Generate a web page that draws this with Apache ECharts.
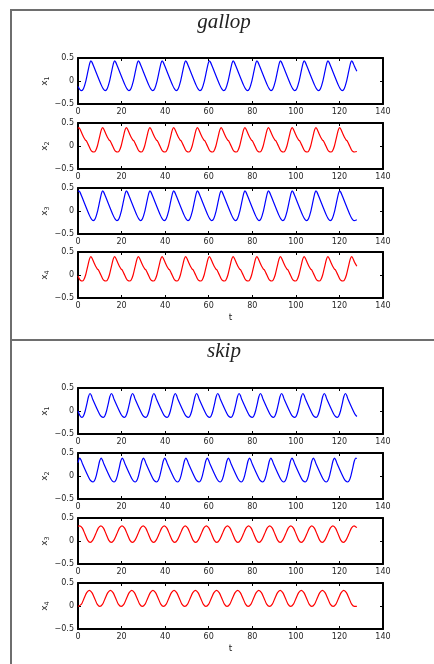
<!DOCTYPE html>
<html><head><meta charset="utf-8">
<script src="https://cdn.jsdelivr.net/npm/echarts@6/dist/echarts.min.js"></script>
<style>html,body{margin:0;padding:0;background:#fff}#c{width:434px;height:664px}</style>
</head><body><div id="c"></div>
<script>
const panelTitles = ['gallop', 'skip'];
const xAxisName = 't';
const yNameSubs = ['1', '2', '3', '4'];
const xMin = 0, xMax = 140, xStep = 20;
const yMin = -0.5, yMax = 0.5, yStep = 0.5;

const gallopX1 = [[0,-0.12],[0.8,-0.18],
[1.6,-0.21],[2.5,-0.17],[3.5,-0.02],[4.6,0.22],[5.4,0.39],[5.9,0.44],[6.4,0.41],[7.2,0.32],[10.7,-0.09],[11.6,-0.17],
[12.5,-0.21],[13.4,-0.17],[14.4,-0.02],[15.5,0.22],[16.3,0.39],[16.8,0.44],[17.3,0.41],[18.1,0.32],[21.6,-0.09],[22.5,-0.17],
[23.4,-0.21],[24.3,-0.17],[25.3,-0.02],[26.4,0.22],[27.2,0.39],[27.7,0.44],[28.2,0.41],[29.0,0.32],[32.5,-0.09],[33.4,-0.17],
[34.3,-0.21],[35.2,-0.17],[36.2,-0.02],[37.3,0.22],[38.1,0.39],[38.6,0.44],[39.1,0.41],[39.9,0.32],[43.4,-0.09],[44.3,-0.17],
[45.1,-0.21],[46.0,-0.17],[47.0,-0.02],[48.1,0.22],[48.9,0.39],[49.4,0.44],[49.9,0.41],[50.7,0.32],[54.2,-0.09],[55.1,-0.17],
[56.0,-0.21],[56.9,-0.17],[57.9,-0.02],[59.0,0.22],[59.8,0.39],[60.3,0.44],[60.8,0.41],[61.6,0.32],[65.1,-0.09],[66.0,-0.17],
[66.9,-0.21],[67.8,-0.17],[68.8,-0.02],[69.9,0.22],[70.7,0.39],[71.2,0.44],[71.7,0.41],[72.5,0.32],[76.0,-0.09],[76.9,-0.17],
[77.8,-0.21],[78.7,-0.17],[79.7,-0.02],[80.8,0.22],[81.6,0.39],[82.1,0.44],[82.6,0.41],[83.4,0.32],[86.9,-0.09],[87.8,-0.17],
[88.6,-0.21],[89.5,-0.17],[90.5,-0.02],[91.6,0.22],[92.4,0.39],[92.9,0.44],[93.4,0.41],[94.2,0.32],[97.7,-0.09],[98.6,-0.17],
[99.5,-0.21],[100.4,-0.17],[101.4,-0.02],[102.5,0.22],[103.3,0.39],[103.8,0.44],[104.3,0.41],[105.1,0.32],[108.6,-0.09],[109.5,-0.17],
[110.4,-0.21],[111.3,-0.17],[112.3,-0.02],[113.4,0.22],[114.2,0.39],[114.7,0.44],[115.2,0.41],[116.0,0.32],[119.5,-0.09],[120.4,-0.17],
[121.3,-0.21],[122.2,-0.17],[123.2,-0.02],[124.3,0.22],[125.1,0.39],[125.6,0.44],[126.1,0.41],[126.9,0.32],[128,0.21]];

const gallopX2 = [[0,0.38],
[0.4,0.40],[0.9,0.37],[1.8,0.27],[2.6,0.19],[3.4,0.13],[3.9,0.11],[4.7,0.03],[5.8,-0.08],[6.5,-0.12],
[7.3,-0.13],[8.0,-0.11],[8.9,0.00],[9.9,0.20],[10.7,0.35],[11.3,0.40],[11.8,0.37],[12.7,0.27],[13.5,0.19],[14.3,0.13],[14.8,0.11],[15.6,0.03],[16.7,-0.08],[17.4,-0.12],
[18.2,-0.13],[18.9,-0.11],[19.8,0.00],[20.8,0.20],[21.6,0.35],[22.2,0.40],[22.7,0.37],[23.6,0.27],[24.4,0.19],[25.2,0.13],[25.7,0.11],[26.5,0.03],[27.6,-0.08],[28.3,-0.12],
[29.0,-0.13],[29.7,-0.11],[30.6,0.00],[31.6,0.20],[32.4,0.35],[33.0,0.40],[33.5,0.37],[34.4,0.27],[35.2,0.19],[36.0,0.13],[36.5,0.11],[37.3,0.03],[38.4,-0.08],[39.1,-0.12],
[39.9,-0.13],[40.6,-0.11],[41.5,0.00],[42.5,0.20],[43.3,0.35],[43.9,0.40],[44.4,0.37],[45.3,0.27],[46.1,0.19],[46.9,0.13],[47.4,0.11],[48.2,0.03],[49.3,-0.08],[50.0,-0.12],
[50.8,-0.13],[51.5,-0.11],[52.4,0.00],[53.4,0.20],[54.2,0.35],[54.8,0.40],[55.3,0.37],[56.2,0.27],[57.0,0.19],[57.8,0.13],[58.3,0.11],[59.1,0.03],[60.2,-0.08],[60.9,-0.12],
[61.7,-0.13],[62.4,-0.11],[63.3,0.00],[64.3,0.20],[65.1,0.35],[65.7,0.40],[66.2,0.37],[67.1,0.27],[67.9,0.19],[68.7,0.13],[69.2,0.11],[70.0,0.03],[71.1,-0.08],[71.8,-0.12],
[72.6,-0.13],[73.3,-0.11],[74.2,0.00],[75.2,0.20],[76.0,0.35],[76.6,0.40],[77.1,0.37],[78.0,0.27],[78.8,0.19],[79.6,0.13],[80.1,0.11],[80.9,0.03],[82.0,-0.08],[82.7,-0.12],
[83.4,-0.13],[84.1,-0.11],[85.0,0.00],[86.0,0.20],[86.8,0.35],[87.4,0.40],[87.9,0.37],[88.8,0.27],[89.6,0.19],[90.4,0.13],[90.9,0.11],[91.7,0.03],[92.8,-0.08],[93.5,-0.12],
[94.3,-0.13],[95.0,-0.11],[95.9,0.00],[96.9,0.20],[97.7,0.35],[98.3,0.40],[98.8,0.37],[99.7,0.27],[100.5,0.19],[101.3,0.13],[101.8,0.11],[102.6,0.03],[103.7,-0.08],[104.4,-0.12],
[105.2,-0.13],[105.9,-0.11],[106.8,0.00],[107.8,0.20],[108.6,0.35],[109.2,0.40],[109.7,0.37],[110.6,0.27],[111.4,0.19],[112.2,0.13],[112.7,0.11],[113.5,0.03],[114.6,-0.08],[115.3,-0.12],
[116.1,-0.13],[116.8,-0.11],[117.7,0.00],[118.7,0.20],[119.5,0.35],[120.1,0.40],[120.6,0.37],[121.5,0.27],[122.3,0.19],[123.1,0.13],[123.6,0.11],[124.4,0.03],[125.5,-0.08],[126.2,-0.12],[127.0,-0.13],[128,-0.12]];

const gallopX3 = [[0,0.42],
[0.4,0.44],[0.9,0.41],[1.7,0.32],[5.2,-0.09],[6.1,-0.17],
[7.0,-0.21],[7.9,-0.17],[8.9,-0.02],[10.0,0.22],[10.8,0.39],[11.3,0.44],[11.8,0.41],[12.6,0.32],[16.1,-0.09],[17.0,-0.17],
[17.9,-0.21],[18.8,-0.17],[19.8,-0.02],[20.9,0.22],[21.7,0.39],[22.2,0.44],[22.7,0.41],[23.5,0.32],[27.0,-0.09],[27.9,-0.17],
[28.7,-0.21],[29.6,-0.17],[30.6,-0.02],[31.7,0.22],[32.5,0.39],[33.0,0.44],[33.5,0.41],[34.3,0.32],[37.8,-0.09],[38.7,-0.17],
[39.6,-0.21],[40.5,-0.17],[41.5,-0.02],[42.6,0.22],[43.4,0.39],[43.9,0.44],[44.4,0.41],[45.2,0.32],[48.7,-0.09],[49.6,-0.17],
[50.5,-0.21],[51.4,-0.17],[52.4,-0.02],[53.5,0.22],[54.3,0.39],[54.8,0.44],[55.3,0.41],[56.1,0.32],[59.6,-0.09],[60.5,-0.17],
[61.4,-0.21],[62.3,-0.17],[63.3,-0.02],[64.4,0.22],[65.2,0.39],[65.7,0.44],[66.2,0.41],[67.0,0.32],[70.5,-0.09],[71.4,-0.17],
[72.3,-0.21],[73.2,-0.17],[74.2,-0.02],[75.3,0.22],[76.1,0.39],[76.6,0.44],[77.1,0.41],[77.9,0.32],[81.4,-0.09],[82.3,-0.17],
[83.1,-0.21],[84.0,-0.17],[85.0,-0.02],[86.1,0.22],[86.9,0.39],[87.4,0.44],[87.9,0.41],[88.7,0.32],[92.2,-0.09],[93.1,-0.17],
[94.0,-0.21],[94.9,-0.17],[95.9,-0.02],[97.0,0.22],[97.8,0.39],[98.3,0.44],[98.8,0.41],[99.6,0.32],[103.1,-0.09],[104.0,-0.17],
[104.9,-0.21],[105.8,-0.17],[106.8,-0.02],[107.9,0.22],[108.7,0.39],[109.2,0.44],[109.7,0.41],[110.5,0.32],[114.0,-0.09],[114.9,-0.17],
[115.8,-0.21],[116.7,-0.17],[117.7,-0.02],[118.8,0.22],[119.6,0.39],[120.1,0.44],[120.6,0.41],[121.4,0.32],[124.9,-0.09],[125.8,-0.17],[126.7,-0.21],[128,-0.19]];

const gallopX4 = [[0,-0.02],[0.7,-0.09],[1.2,-0.12],
[1.9,-0.13],[2.6,-0.11],[3.5,0.00],[4.5,0.20],[5.3,0.35],[5.9,0.40],[6.4,0.37],[7.3,0.27],[8.1,0.19],[8.9,0.13],[9.4,0.11],[10.2,0.03],[11.3,-0.08],[12.0,-0.12],
[12.8,-0.13],[13.5,-0.11],[14.4,0.00],[15.4,0.20],[16.2,0.35],[16.8,0.40],[17.3,0.37],[18.2,0.27],[19.0,0.19],[19.8,0.13],[20.3,0.11],[21.1,0.03],[22.2,-0.08],[22.9,-0.12],
[23.7,-0.13],[24.4,-0.11],[25.3,0.00],[26.3,0.20],[27.1,0.35],[27.7,0.40],[28.2,0.37],[29.1,0.27],[29.9,0.19],[30.7,0.13],[31.2,0.11],[32.0,0.03],[33.1,-0.08],[33.8,-0.12],
[34.6,-0.13],[35.3,-0.11],[36.2,0.00],[37.2,0.20],[38.0,0.35],[38.6,0.40],[39.1,0.37],[40.0,0.27],[40.8,0.19],[41.6,0.13],[42.1,0.11],[42.9,0.03],[44.0,-0.08],[44.7,-0.12],
[45.4,-0.13],[46.1,-0.11],[47.0,0.00],[48.0,0.20],[48.8,0.35],[49.4,0.40],[49.9,0.37],[50.8,0.27],[51.6,0.19],[52.4,0.13],[52.9,0.11],[53.7,0.03],[54.8,-0.08],[55.5,-0.12],
[56.3,-0.13],[57.0,-0.11],[57.9,0.00],[58.9,0.20],[59.7,0.35],[60.3,0.40],[60.8,0.37],[61.7,0.27],[62.5,0.19],[63.3,0.13],[63.8,0.11],[64.6,0.03],[65.7,-0.08],[66.4,-0.12],
[67.2,-0.13],[67.9,-0.11],[68.8,0.00],[69.8,0.20],[70.6,0.35],[71.2,0.40],[71.7,0.37],[72.6,0.27],[73.4,0.19],[74.2,0.13],[74.7,0.11],[75.5,0.03],[76.6,-0.08],[77.3,-0.12],
[78.1,-0.13],[78.8,-0.11],[79.7,0.00],[80.7,0.20],[81.5,0.35],[82.1,0.40],[82.6,0.37],[83.5,0.27],[84.3,0.19],[85.1,0.13],[85.6,0.11],[86.4,0.03],[87.5,-0.08],[88.2,-0.12],
[88.9,-0.13],[89.6,-0.11],[90.5,0.00],[91.5,0.20],[92.3,0.35],[92.9,0.40],[93.4,0.37],[94.3,0.27],[95.1,0.19],[95.9,0.13],[96.4,0.11],[97.2,0.03],[98.3,-0.08],[99.0,-0.12],
[99.8,-0.13],[100.5,-0.11],[101.4,0.00],[102.4,0.20],[103.2,0.35],[103.8,0.40],[104.3,0.37],[105.2,0.27],[106.0,0.19],[106.8,0.13],[107.3,0.11],[108.1,0.03],[109.2,-0.08],[109.9,-0.12],
[110.7,-0.13],[111.4,-0.11],[112.3,0.00],[113.3,0.20],[114.1,0.35],[114.7,0.40],[115.2,0.37],[116.1,0.27],[116.9,0.19],[117.7,0.13],[118.2,0.11],[119.0,0.03],[120.1,-0.08],[120.8,-0.12],
[121.6,-0.13],[122.3,-0.11],[123.2,0.00],[124.2,0.20],[125.0,0.35],[125.6,0.40],[126.1,0.37],[127.0,0.27],[128,0.19]];

const skipX1 = [[0,0.00],[0.9,-0.10],
[1.8,-0.14],[2.5,-0.11],[3.3,0.00],[4.1,0.16],[4.8,0.31],[5.5,0.38],[6.1,0.34],[6.8,0.25],[9.8,-0.06],[10.7,-0.12],
[11.6,-0.14],[12.3,-0.11],[13.1,0.00],[13.9,0.16],[14.6,0.31],[15.3,0.38],[15.9,0.34],[16.6,0.25],[19.6,-0.06],[20.5,-0.12],
[21.3,-0.14],[22.0,-0.11],[22.8,0.00],[23.6,0.16],[24.3,0.31],[25.0,0.38],[25.6,0.34],[26.3,0.25],[29.3,-0.06],[30.2,-0.12],
[31.1,-0.14],[31.8,-0.11],[32.6,0.00],[33.4,0.16],[34.1,0.31],[34.8,0.38],[35.4,0.34],[36.1,0.25],[39.1,-0.06],[40.0,-0.12],
[40.9,-0.14],[41.6,-0.11],[42.4,0.00],[43.2,0.16],[43.9,0.31],[44.6,0.38],[45.2,0.34],[45.9,0.25],[48.9,-0.06],[49.8,-0.12],
[50.7,-0.14],[51.4,-0.11],[52.2,0.00],[53.0,0.16],[53.7,0.31],[54.4,0.38],[55.0,0.34],[55.7,0.25],[58.7,-0.06],[59.6,-0.12],
[60.4,-0.14],[61.1,-0.11],[61.9,0.00],[62.7,0.16],[63.4,0.31],[64.1,0.38],[64.7,0.34],[65.4,0.25],[68.4,-0.06],[69.3,-0.12],
[70.2,-0.14],[70.9,-0.11],[71.7,0.00],[72.5,0.16],[73.2,0.31],[73.9,0.38],[74.5,0.34],[75.2,0.25],[78.2,-0.06],[79.1,-0.12],
[80.0,-0.14],[80.7,-0.11],[81.5,0.00],[82.3,0.16],[83.0,0.31],[83.7,0.38],[84.3,0.34],[85.0,0.25],[88.0,-0.06],[88.9,-0.12],
[89.7,-0.14],[90.4,-0.11],[91.2,0.00],[92.0,0.16],[92.7,0.31],[93.4,0.38],[94.0,0.34],[94.7,0.25],[97.7,-0.06],[98.6,-0.12],
[99.5,-0.14],[100.2,-0.11],[101.0,0.00],[101.8,0.16],[102.5,0.31],[103.2,0.38],[103.8,0.34],[104.5,0.25],[107.5,-0.06],[108.4,-0.12],
[109.3,-0.14],[110.0,-0.11],[110.8,0.00],[111.6,0.16],[112.3,0.31],[113.0,0.38],[113.6,0.34],[114.3,0.25],[117.3,-0.06],[118.2,-0.12],
[119.0,-0.14],[119.7,-0.11],[120.5,0.00],[121.3,0.16],[122.0,0.31],[122.7,0.38],[123.3,0.34],[124.0,0.25],[127.0,-0.06],[128,-0.12]];

const skipX2 = [[0,0.29],
[0.8,0.39],[1.4,0.35],[2.1,0.26],[5.1,-0.05],[6.0,-0.11],
[6.9,-0.13],[7.6,-0.10],[8.4,0.01],[9.2,0.17],[9.9,0.32],[10.6,0.39],[11.2,0.35],[11.9,0.26],[14.9,-0.05],[15.8,-0.11],
[16.6,-0.13],[17.3,-0.10],[18.1,0.01],[18.9,0.17],[19.6,0.32],[20.3,0.39],[20.9,0.35],[21.6,0.26],[24.6,-0.05],[25.5,-0.11],
[26.3,-0.13],[27.0,-0.10],[27.8,0.01],[28.6,0.17],[29.3,0.32],[30.0,0.39],[30.6,0.35],[31.3,0.26],[34.3,-0.05],[35.2,-0.11],
[36.1,-0.13],[36.8,-0.10],[37.6,0.01],[38.4,0.17],[39.1,0.32],[39.8,0.39],[40.4,0.35],[41.1,0.26],[44.1,-0.05],[45.0,-0.11],
[45.8,-0.13],[46.5,-0.10],[47.3,0.01],[48.1,0.17],[48.8,0.32],[49.5,0.39],[50.1,0.35],[50.8,0.26],[53.8,-0.05],[54.7,-0.11],
[55.6,-0.13],[56.3,-0.10],[57.1,0.01],[57.9,0.17],[58.6,0.32],[59.3,0.39],[59.9,0.35],[60.6,0.26],[63.6,-0.05],[64.5,-0.11],
[65.3,-0.13],[66.0,-0.10],[66.8,0.01],[67.6,0.17],[68.3,0.32],[69.0,0.39],[69.6,0.35],[70.3,0.26],[73.3,-0.05],[74.2,-0.11],
[75.0,-0.13],[75.7,-0.10],[76.5,0.01],[77.3,0.17],[78.0,0.32],[78.7,0.39],[79.3,0.35],[80.0,0.26],[83.0,-0.05],[83.9,-0.11],
[84.8,-0.13],[85.5,-0.10],[86.3,0.01],[87.1,0.17],[87.8,0.32],[88.5,0.39],[89.1,0.35],[89.8,0.26],[92.8,-0.05],[93.7,-0.11],
[94.5,-0.13],[95.2,-0.10],[96.0,0.01],[96.8,0.17],[97.5,0.32],[98.2,0.39],[98.8,0.35],[99.5,0.26],[102.5,-0.05],[103.4,-0.11],
[104.3,-0.13],[105.0,-0.10],[105.8,0.01],[106.6,0.17],[107.3,0.32],[108.0,0.39],[108.6,0.35],[109.3,0.26],[112.3,-0.05],[113.2,-0.11],
[114.0,-0.13],[114.7,-0.10],[115.5,0.01],[116.3,0.17],[117.0,0.32],[117.7,0.39],[118.3,0.35],[119.0,0.26],[122.0,-0.05],[122.9,-0.11],
[123.8,-0.13],[124.5,-0.10],[125.3,0.01],[126.1,0.17],[126.8,0.32],[127.5,0.39],[128,0.38]];

const skipX3 = [[0,0.32],
[0.8,0.33],[2.0,0.28],[3.2,0.15],[4.4,0.02],[5.6,-0.03],[6.8,0.02],[8.1,0.15],[9.3,0.28],
[10.5,0.33],[11.7,0.28],[12.9,0.15],[14.1,0.02],[15.3,-0.03],[16.5,0.02],[17.8,0.15],[19.0,0.28],
[20.2,0.33],[21.4,0.28],[22.6,0.15],[23.8,0.02],[25.0,-0.03],[26.2,0.02],[27.5,0.15],[28.7,0.28],
[29.9,0.33],[31.1,0.28],[32.3,0.15],[33.5,0.02],[34.7,-0.03],[35.9,0.02],[37.2,0.15],[38.4,0.28],
[39.6,0.33],[40.8,0.28],[42.0,0.15],[43.2,0.02],[44.4,-0.03],[45.6,0.02],[46.9,0.15],[48.1,0.28],
[49.2,0.33],[50.4,0.28],[51.6,0.15],[52.8,0.02],[54.0,-0.03],[55.2,0.02],[56.5,0.15],[57.7,0.28],
[58.9,0.33],[60.1,0.28],[61.3,0.15],[62.5,0.02],[63.7,-0.03],[64.9,0.02],[66.2,0.15],[67.4,0.28],
[68.6,0.33],[69.8,0.28],[71.0,0.15],[72.2,0.02],[73.4,-0.03],[74.6,0.02],[75.9,0.15],[77.1,0.28],
[78.3,0.33],[79.5,0.28],[80.7,0.15],[81.9,0.02],[83.1,-0.03],[84.3,0.02],[85.6,0.15],[86.8,0.28],
[88.0,0.33],[89.2,0.28],[90.4,0.15],[91.6,0.02],[92.8,-0.03],[94.0,0.02],[95.3,0.15],[96.5,0.28],
[97.7,0.33],[98.9,0.28],[100.1,0.15],[101.3,0.02],[102.5,-0.03],[103.7,0.02],[105.0,0.15],[106.2,0.28],
[107.3,0.33],[108.5,0.28],[109.7,0.15],[110.9,0.02],[112.1,-0.03],[113.3,0.02],[114.6,0.15],[115.8,0.28],
[117.0,0.33],[118.2,0.28],[119.4,0.15],[120.6,0.02],[121.8,-0.03],[123.0,0.02],[124.3,0.15],[125.5,0.28],
[126.7,0.33],[128,0.29]];

const skipX4 = [[0,-0.01],[0.3,-0.01],
[1.6,0.04],[2.8,0.17],[4.0,0.29],[5.2,0.34],[6.4,0.29],[7.6,0.17],[8.8,0.04],
[10.0,-0.01],[11.3,0.04],[12.5,0.17],[13.7,0.29],[14.9,0.34],[16.1,0.29],[17.3,0.17],[18.5,0.04],
[19.8,-0.01],[21.1,0.04],[22.3,0.17],[23.5,0.29],[24.7,0.34],[25.9,0.29],[27.1,0.17],[28.3,0.04],
[29.5,-0.01],[30.8,0.04],[32.0,0.17],[33.2,0.29],[34.4,0.34],[35.6,0.29],[36.8,0.17],[38.0,0.04],
[39.2,-0.01],[40.5,0.04],[41.7,0.17],[42.9,0.29],[44.1,0.34],[45.3,0.29],[46.5,0.17],[47.7,0.04],
[49.0,-0.01],[50.3,0.04],[51.5,0.17],[52.7,0.29],[53.9,0.34],[55.1,0.29],[56.3,0.17],[57.5,0.04],
[58.7,-0.01],[60.0,0.04],[61.2,0.17],[62.4,0.29],[63.6,0.34],[64.8,0.29],[66.0,0.17],[67.2,0.04],
[68.4,-0.01],[69.7,0.04],[70.9,0.17],[72.1,0.29],[73.3,0.34],[74.5,0.29],[75.7,0.17],[76.9,0.04],
[78.1,-0.01],[79.4,0.04],[80.6,0.17],[81.8,0.29],[83.0,0.34],[84.2,0.29],[85.4,0.17],[86.6,0.04],
[87.9,-0.01],[89.2,0.04],[90.4,0.17],[91.6,0.29],[92.8,0.34],[94.0,0.29],[95.2,0.17],[96.4,0.04],
[97.6,-0.01],[98.9,0.04],[100.1,0.17],[101.3,0.29],[102.5,0.34],[103.7,0.29],[104.9,0.17],[106.1,0.04],
[107.3,-0.01],[108.6,0.04],[109.8,0.17],[111.0,0.29],[112.2,0.34],[113.4,0.29],[114.6,0.17],[115.8,0.04],
[117.1,-0.01],[118.4,0.04],[119.6,0.17],[120.8,0.29],[122.0,0.34],[123.2,0.29],[124.4,0.17],[125.6,0.04],[126.9,-0.01],[128,-0.01]];

const BLUE = '#0000ff', RED = '#ff0000';
const panels = [
  { title: panelTitles[0], data: [gallopX1, gallopX2, gallopX3, gallopX4], colors: [BLUE, RED, BLUE, RED], tops: [58, 123, 188, 252], titleTop: 12, frame: [11, 10, 440, 330] },
  { title: panelTitles[1], data: [skipX1, skipX2, skipX3, skipX4], colors: [BLUE, BLUE, RED, RED], tops: [388, 453, 518, 583], titleTop: 341, frame: [11, 340, 440, 340] }
];

const FONT = 'DejaVu Sans';
const AX_COLOR = '#000';
const LBL_COLOR = '#262626';
const grid = [], xAxis = [], yAxis = [], series = [], title = [], graphic = [];

panels.forEach(function (p) {
  graphic.push({ type: 'rect', z: -1, shape: { x: p.frame[0], y: p.frame[1], width: p.frame[2], height: p.frame[3] },
    style: { fill: 'none', stroke: '#6e6e6e', lineWidth: 2 } });
  title.push({ text: p.title, left: 224, top: p.titleTop, textAlign: 'center', padding: 0,
    textStyle: { fontFamily: 'Liberation Serif', fontStyle: 'italic', fontWeight: 'normal', fontSize: 21, color: '#222' } });
  p.data.forEach(function (d, i) {
    const g = grid.length;
    grid.push({ left: 78, top: p.tops[i], width: 305, height: 46, outerBoundsMode: 'none', containLabel: false });
    const baseX = {
      type: 'value', gridIndex: g, min: xMin, max: xMax, interval: xStep,
      axisLine: { show: true, onZero: false, lineStyle: { color: AX_COLOR, width: 2 } },
      axisTick: { show: true, inside: true, length: 3, lineStyle: { color: AX_COLOR, width: 1 } },
      splitLine: { show: false }
    };
    xAxis.push(Object.assign({}, baseX, {
      position: 'bottom',
      axisLabel: { show: true, fontSize: 8, fontFamily: FONT, color: LBL_COLOR, margin: 4, showMinLabel: true, showMaxLabel: true },
      name: i === 3 ? xAxisName : '', nameLocation: 'middle', nameGap: 15,
      nameTextStyle: { fontFamily: FONT, fontSize: 9, color: LBL_COLOR }
    }));
    xAxis.push(Object.assign({}, baseX, { position: 'top', axisLabel: { show: false } }));
    const baseY = {
      type: 'value', gridIndex: g, min: yMin, max: yMax, interval: yStep,
      axisLine: { show: true, onZero: false, lineStyle: { color: AX_COLOR, width: 2 } },
      axisTick: { show: true, inside: true, length: 3, lineStyle: { color: AX_COLOR, width: 1 } },
      splitLine: { show: false }
    };
    yAxis.push(Object.assign({}, baseY, {
      position: 'left',
      axisLabel: { show: true, fontSize: 8, fontFamily: FONT, color: LBL_COLOR, margin: 4, showMinLabel: true, showMaxLabel: true,
        formatter: function (v) { return v < 0 ? '\u2212' + (-v) : String(v); } },
      name: '{a|x}{b|' + yNameSubs[i] + '}', nameLocation: 'middle', nameRotate: 90, nameGap: 27, nameMoveOverlap: false,
      nameTextStyle: { fontFamily: FONT, color: LBL_COLOR,
        rich: { a: { fontFamily: FONT, fontSize: 9, lineHeight: 13, color: LBL_COLOR },
                b: { fontFamily: FONT, fontSize: 6.5, verticalAlign: 'bottom', color: LBL_COLOR } } }
    }));
    yAxis.push(Object.assign({}, baseY, { position: 'right', axisLabel: { show: false } }));
    series.push({ type: 'line', xAxisIndex: g * 2, yAxisIndex: g * 2, data: d, showSymbol: false, symbol: 'none',
      smooth: 0.25, lineStyle: { color: p.colors[i], width: 1.2 }, itemStyle: { color: p.colors[i] }, silent: true });
  });
});

const chart = echarts.init(document.getElementById('c'), null, { renderer: 'canvas' });
chart.setOption({ animation: false, backgroundColor: '#fff', title: title, grid: grid, xAxis: xAxis, yAxis: yAxis, series: series, graphic: graphic });
</script></body></html>
